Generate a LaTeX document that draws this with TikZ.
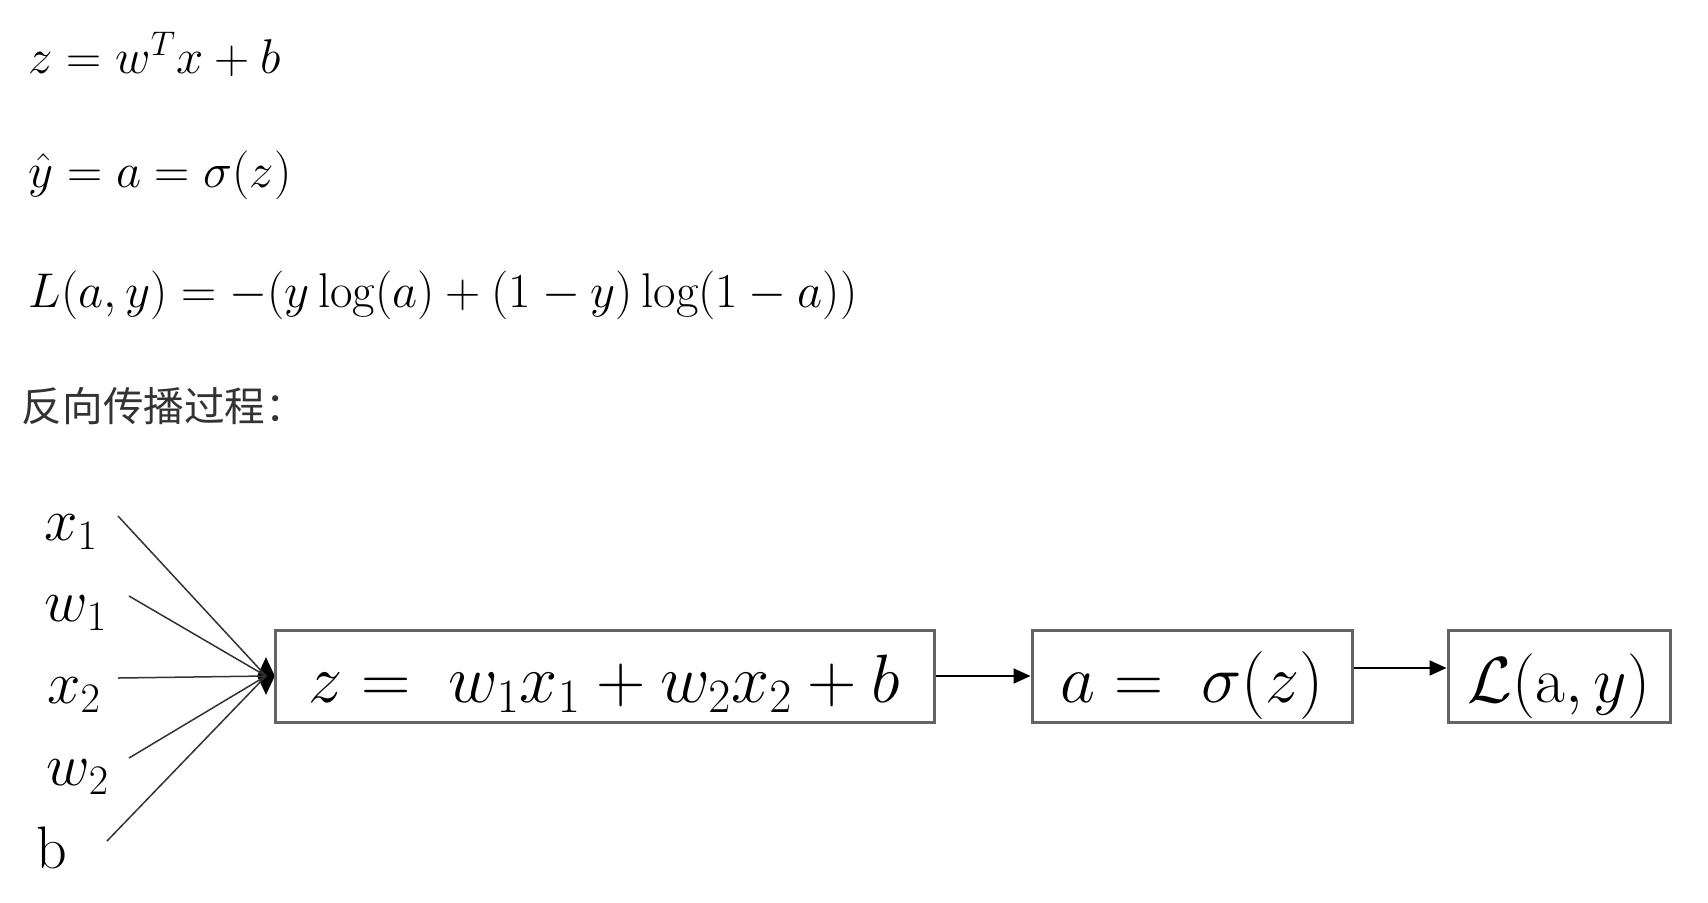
\RequirePackage{fix-cm}
\documentclass[tikz,border=0pt]{standalone}
\usepackage{amsmath}
\usepackage{amssymb}
\usepackage{fontspec}
\newfontfamily\cjk{Noto Sans CJK SC}
\usetikzlibrary{arrows.meta}
\usetikzlibrary{shapes}

\begin{document}
\begin{tikzpicture}[x=0.5pt,y=0.5pt,yscale=-1,xscale=1]
\useasboundingbox (0,0) rectangle (1708,902);

% Text Node
\draw (27,73) node [anchor=base west][inner sep=0.75pt]  [font=\fontsize{24.4}{29}\selectfont] (eqz) {$z=w^{T}x+b$};
% Text Node
\draw (27,187) node [anchor=base west][inner sep=0.75pt]  [font=\fontsize{24.4}{29}\selectfont] (eqa) {$\hat{y}=a=\sigma(z)$};
% Text Node
\draw (27,307) node [anchor=base west][inner sep=0.75pt]  [font=\fontsize{24.4}{29}\selectfont] (eql) {$L(a,y)=-(y\log(a)+(1-y)\log(1-a))$};
% Text Node
\draw (20,421) node [anchor=base west][inner sep=0.75pt]  [font=\fontsize{20.3}{24}\cjk, color={rgb, 255:red, 51; green, 51; blue, 51 }] (title) {反向传播过程：};

% Text Node
\draw (71,532) node [inner sep=0.75pt]  [font=\fontsize{30}{36}\selectfont] (lx1) {$x_{1}$};
% Text Node
\draw (76,613) node [inner sep=0.75pt]  [font=\fontsize{30}{36}\selectfont] (lw1) {$w_{1}$};
% Text Node
\draw (74,695) node [inner sep=0.75pt]  [font=\fontsize{30}{36}\selectfont] (lx2) {$x_{2}$};
% Text Node
\draw (78,777) node [inner sep=0.75pt]  [font=\fontsize{30}{36}\selectfont] (lw2) {$w_{2}$};
% Text Node
\draw (52,848) node [inner sep=0.75pt]  [font=\fontsize{30}{36}\selectfont] (lb) {$\mathrm{b}$};

% line starts
\coordinate (sx1) at (118,516);
\coordinate (sw1) at (129,596);
\coordinate (sx2) at (118,678);
\coordinate (sw2) at (129,758);
\coordinate (sb) at (107,841);

%Shape: Diamond
\draw (266,676) node [diamond, fill=black, inner sep=0pt, minimum width=9pt, minimum height=19pt] (hub) {};

%Straight Lines
\draw [color={rgb, 255:red, 50; green, 50; blue, 50 }, line width=0.75pt]  (sx1) -- (hub.center) ;
\draw [color={rgb, 255:red, 50; green, 50; blue, 50 }, line width=0.75pt]  (sw1) -- (hub.center) ;
\draw [color={rgb, 255:red, 50; green, 50; blue, 50 }, line width=0.75pt]  (sx2) -- (hub.center) ;
\draw [color={rgb, 255:red, 50; green, 50; blue, 50 }, line width=0.75pt]  (sw2) -- (hub.center) ;
\draw [color={rgb, 255:red, 50; green, 50; blue, 50 }, line width=0.75pt]  (sb) -- (hub.center) ;

%Shape: Rectangle
\draw (604.5,676) node [draw={rgb, 255:red, 100; green, 100; blue, 100 }, line width=1.5pt, minimum width=329.5pt, minimum height=46pt, inner sep=0pt, text height=30pt, text depth=4pt, font=\fontsize{34.2}{41}\selectfont] (boxz) {$z=\;w_{1}x_{1}+w_{2}x_{2}+b$};
%Shape: Rectangle
\draw (1192,676) node [draw={rgb, 255:red, 100; green, 100; blue, 100 }, line width=1.5pt, minimum width=160pt, minimum height=46pt, inner sep=0pt, text height=30pt, text depth=4pt, font=\fontsize{34}{41}\selectfont] (boxa) {$a=\;\sigma(z)$};
%Shape: Rectangle
\draw (1559,676) node [draw={rgb, 255:red, 100; green, 100; blue, 100 }, line width=1.5pt, minimum width=111pt, minimum height=46pt, inner sep=0pt, text height=30pt, text depth=4pt, font=\fontsize{32.5}{39}\selectfont] (boxl) {$\mathcal{L}(\mathrm{a},y)$};

%Straight Lines
\draw [line width=1pt, -{Triangle[length=8.5pt, width=7.5pt]}]  (boxz.east) -- (boxa.west) ;
\draw [line width=1pt, -{Triangle[length=8.5pt, width=7.5pt]}]  ([yshift=-4pt]boxa.east) -- ([yshift=-4pt]boxl.west) ;

\end{tikzpicture}
\end{document}
